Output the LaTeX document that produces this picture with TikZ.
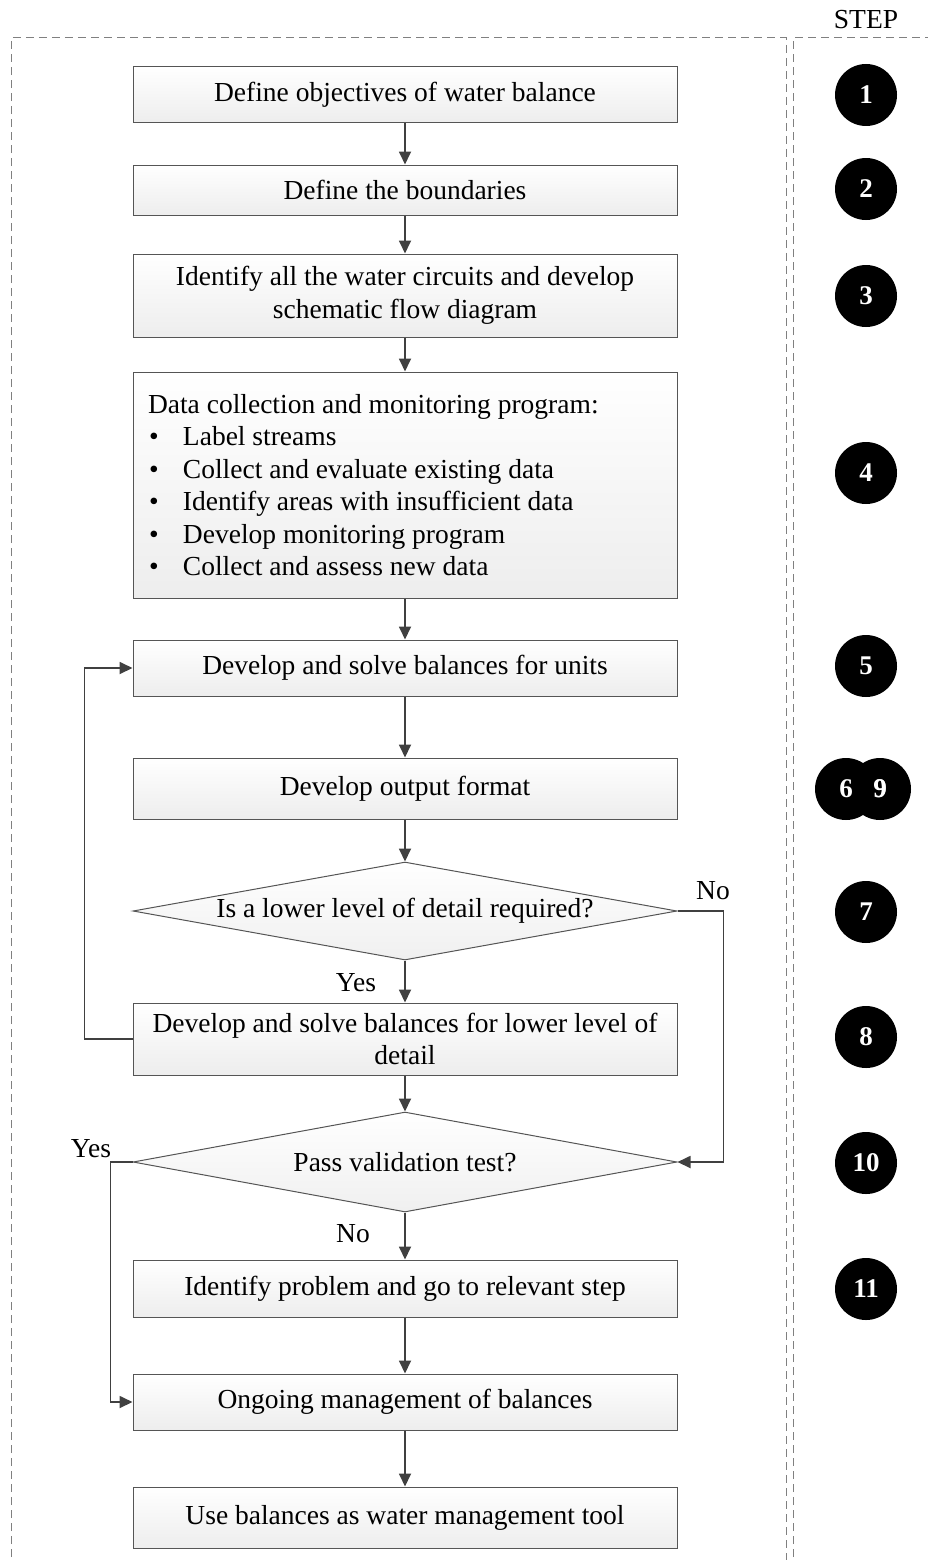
\documentclass[tikz,border=0pt]{standalone}
\usepackage{fontspec}
\setmainfont{Liberation Serif}
\usetikzlibrary{shapes.geometric,arrows.meta}
\definecolor{linec}{HTML}{404040}
\definecolor{boxc}{HTML}{555555}
\definecolor{dashc}{HTML}{808080}
\begin{document}
\begin{tikzpicture}[x=1pt,y=-1pt,
  font=\fontsize{27.5}{32.5}\selectfont,
  stepbox/.style={draw=boxc, line width=1pt, rectangle, top color=white, bottom color=black!7,
    minimum width=544pt, inner sep=0pt, align=center},
  dia/.style={draw=boxc, line width=1pt, diamond, top color=white, bottom color=black!6,
    minimum width=544pt, inner sep=0pt},
  num/.style={circle, fill=black, text=white, minimum size=62pt, inner sep=0pt, font=\fontsize{27}{30}\selectfont\bfseries},
  arr/.style={draw=linec, line width=1.8pt, -{Triangle[length=13pt,width=12pt]}},
  lbl/.style={inner sep=0pt},
  frame/.style={draw=dashc, line width=1pt, dash pattern=on 8pt off 5pt}
]
\useasboundingbox (0,0) rectangle (928,1560);
% panels
\draw[frame] (11,1570) -- (11,38) -- (786,38) -- (786,1570);
\draw[frame] (793,1570) -- (793,38) -- (940,38);
\node[lbl] (steplbl) at (866,20) {STEP};

% boxes
\node[stepbox, minimum height=56pt] (b1) at (405,95) {Define objectives of water balance};
\node[stepbox, minimum height=50pt] (b2) at (405,190) {Define the boundaries};
\node[stepbox, minimum height=83pt] (b3) at (405,295.5) {Identify all the water circuits and develop\\schematic flow diagram};
\node[stepbox, minimum height=226pt, align=flush left, text width=514pt] (b4) at (405,485) {%
Data collection and monitoring program:\\
\makebox[35pt][l]{\hspace{1pt}\textbullet}Label streams\\
\makebox[35pt][l]{\hspace{1pt}\textbullet}Collect and evaluate existing data\\
\makebox[35pt][l]{\hspace{1pt}\textbullet}Identify areas with insufficient data\\
\makebox[35pt][l]{\hspace{1pt}\textbullet}Develop monitoring program\\
\makebox[35pt][l]{\hspace{1pt}\textbullet}Collect and assess new data};
\node[stepbox, minimum height=56pt] (b5) at (405,668) {Develop and solve balances for units};
\node[stepbox, minimum height=61pt] (b6) at (405,788.5) {Develop output format};
\node[dia, minimum height=98pt, label={center:Is a lower level of detail required?}] (d1) at (405,911) {};
\node[stepbox, minimum height=72pt] (b8) at (405,1039) {Develop and solve balances for lower level of\\detail};
\node[dia, minimum height=100pt, label={center:Pass validation test?}] (d2) at (405,1162) {};
\node[stepbox, minimum height=57pt] (b11) at (405,1288.5) {Identify problem and go to relevant step};
\node[stepbox, minimum height=56pt] (b12) at (405,1402) {Ongoing management of balances};
\node[stepbox, minimum height=61pt] (b13) at (405,1517.5) {Use balances as water management tool};

% connectors
\draw[arr] (b1) -- (b2);
\draw[arr] (b2) -- (b3);
\draw[arr] (b3) -- (b4);
\draw[arr] (b4) -- (b5);
\draw[arr] (b5) -- (b6);
\draw[arr] (b6) -- (d1);
\draw[arr] (d1) -- (b8);
\draw[arr] (b8) -- (d2);
\draw[arr] (d2) -- (b11);
\draw[arr] (b11) -- (b12);
\draw[arr] (b12) -- (b13);
\draw[arr] (d1.east) -- ++(46,0) |- (d2.east);
\draw[arr] (b8.west) -- ++(-48,0) |- (b5.west);
\draw[arr] (d2.west) -- ++(-22,0) |- (b12.west);

% labels
\node[lbl] (no1) at (713,891) {No};
\node[lbl] (yes1) at (356,983) {Yes};
\node[lbl] (yes2) at (91,1149) {Yes};
\node[lbl] (no2) at (353,1234) {No};

% step circles
\node[num] (s1) at (866,95) {1};
\node[num] (s2) at (866,189) {2};
\node[num] (s3) at (866,296) {3};
\node[num] (s4) at (866,473) {4};
\node[num] (s5) at (866,666) {5};
\node[num] (s9) at (880,789) {9};
\node[num] (s6) at (846,789) {};
\node[lbl, text=white, font=\fontsize{27}{30}\selectfont\bfseries] (s6t) at (s6.center) {6};
\node[lbl, text=white, font=\fontsize{27}{30}\selectfont\bfseries] (s9t) at (s9.center) {9};
\node[num] (s7) at (866,912) {7};
\node[num] (s8) at (866,1037) {8};
\node[num] (s10) at (866,1163) {10};
\node[num] (s11) at (866,1289) {11};
\end{tikzpicture}
\end{document}
